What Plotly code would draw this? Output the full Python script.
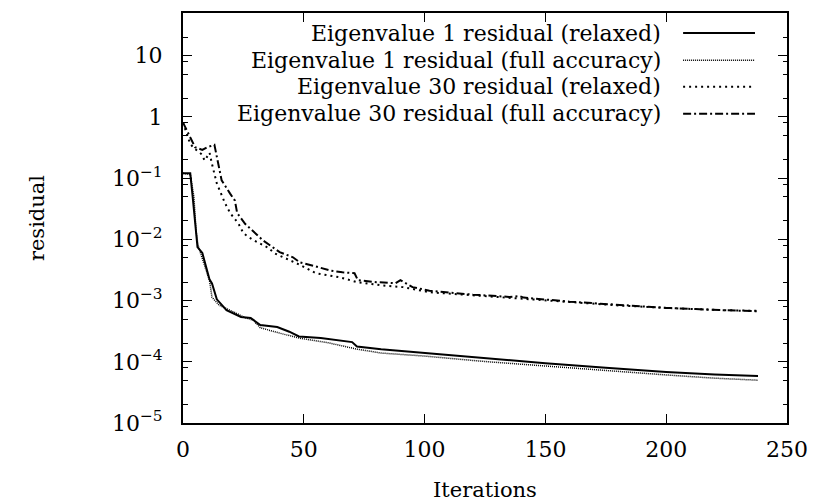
import plotly.graph_objects as go

# ---- data ----
names = [
    "Eigenvalue 1 residual (relaxed)",
    "Eigenvalue 1 residual (full accuracy)",
    "Eigenvalue 30 residual (relaxed)",
    "Eigenvalue 30 residual (full accuracy)",
]

eig1_relaxed_it = [0, 3, 4, 5, 6, 8, 10, 11, 12, 14, 18, 24, 28, 32, 39, 44, 48, 57, 70, 72, 82,
                   100, 125, 150, 175, 200, 220, 238]
eig1_relaxed_val = [0.12, 0.12, 0.05, 0.02, 0.0075, 0.006, 0.0031, 0.0022, 0.0019, 0.00105, 0.0007,
                    0.00054, 0.00052, 0.0004, 0.00037, 0.00031, 0.00026, 0.000244, 0.00021, 0.000178,
                    0.00016, 0.000139, 0.000113, 9.5e-5, 8.0e-5, 6.8e-5, 6.2e-5, 5.85e-5]

eig1_full_it = [0, 3, 4.5, 5.4, 6.2, 9, 11, 12, 15, 21, 26, 29, 32, 40, 48, 60, 72, 82,
                100, 125, 150, 175, 200, 220, 238]
eig1_full_val = [0.12, 0.115, 0.05, 0.014, 0.008, 0.0038, 0.0021, 0.00113, 0.00084, 0.00065,
                 0.00052, 0.00048, 0.00036, 0.000294, 0.000244, 0.000205, 0.000161, 0.000139,
                 0.000124, 0.000101, 8.5e-5, 7.1e-5, 6.1e-5, 5.4e-5, 5.0e-5]

eig30_relaxed_it = [0, 1, 3, 5, 7.5, 9, 11, 12, 14, 17.4, 19.5, 23, 25, 28.6, 35, 38, 44, 48, 55,
                    65, 72, 82, 91, 102, 120, 140, 160, 181, 200, 222, 238]
eig30_relaxed_val = [0.81, 0.6, 0.36, 0.3, 0.25, 0.195, 0.26, 0.17, 0.082, 0.039, 0.027, 0.018,
                     0.0126, 0.0100, 0.0074, 0.0059, 0.0046, 0.0039, 0.0028, 0.0024, 0.0020,
                     0.00178, 0.00166, 0.00137, 0.00122, 0.00108, 0.00094, 0.00083, 0.00076,
                     0.0007, 0.00068]

eig30_full_it = [0, 1.2, 5, 8, 10, 13, 16, 19.5, 21.5, 22.4, 25.7, 33, 40, 45.5, 48.4, 54, 61, 66,
                 71, 72.4, 80, 88, 90, 95, 102, 120, 135, 139.5, 141, 160, 181, 200, 222, 238]
eig30_full_val = [0.81, 0.65, 0.32, 0.29, 0.32, 0.35, 0.092, 0.056, 0.043, 0.027, 0.018, 0.0097,
                  0.0062, 0.0051, 0.0042, 0.0037, 0.0031, 0.0029, 0.0028, 0.00215, 0.0020,
                  0.00192, 0.00215, 0.00166, 0.00145, 0.00125, 0.00115, 0.00118, 0.00112,
                  0.00096, 0.00084, 0.00076, 0.0007, 0.00067]

x_ticks = [0, 50, 100, 150, 200, 250]
y_ticks = [1e-5, 1e-4, 1e-3, 1e-2, 1e-1, 1, 10]
y_tick_text = ["10<sup>\u22125</sup>", "10<sup>\u22124</sup>", "10<sup>\u22123</sup>",
               "10<sup>\u22122</sup>", "10<sup>\u22121</sup>", "1", "10"]
y_minor = [m * 10.0 ** e for e in range(-5, 2) for m in (2, 5, 8)]

# ---- styles ----
FONT = "DejaVu Serif"
FS = 22
TFS = 21
styles = [
    dict(color="black", width=2, dash="solid"),
    dict(color="black", width=1.5, dash="1px,1px"),
    dict(color="black", width=2, dash="2px,4px"),
    dict(color="black", width=2, dash="8px,3px,2px,3px"),
]

series = [
    (eig1_relaxed_it, eig1_relaxed_val),
    (eig1_full_it, eig1_full_val),
    (eig30_relaxed_it, eig30_relaxed_val),
    (eig30_full_it, eig30_full_val),
]

fig = go.Figure()
for (xs, ys), nm, st in zip(series, names, styles):
    fig.add_trace(go.Scatter(x=xs, y=ys, mode="lines", name=nm, line=st, showlegend=False))

# gnuplot-style legend: right-aligned text, line sample on its right
row_y = [0.951, 0.885, 0.820, 0.754]
for nm, st, ry in zip(names, styles, row_y):
    fig.add_annotation(x=0.795, y=ry, xref="paper", yref="paper", text=nm, showarrow=False,
                       xanchor="right", yanchor="middle", font=dict(family=FONT, size=FS, color="black"))
    fig.add_shape(type="line", xref="paper", yref="paper", x0=0.828, x1=0.947, y0=ry, y1=ry,
                  line=st)

fig.update_layout(
    width=814, height=502,
    margin=dict(l=183, r=27, t=13, b=79),
    paper_bgcolor="white", plot_bgcolor="white",
    font=dict(family=FONT, size=FS, color="black"),
    xaxis=dict(
        range=[0, 250], tickvals=x_ticks, ticktext=[str(v) for v in x_ticks],
        ticks="inside", ticklen=9, tickwidth=1.3, tickcolor="black",
        showline=True, linecolor="black", linewidth=2, mirror="allticks",
        showgrid=False, zeroline=False, automargin=False,
        title=dict(text="Iterations", standoff=21, font=dict(size=TFS)),
        ticklabelstandoff=6,
    ),
    yaxis=dict(
        type="log", range=[-5, 1.699],
        tickvals=y_ticks, ticktext=y_tick_text,
        ticks="inside", ticklen=9, tickwidth=1.3, tickcolor="black",
        minor=dict(tickvals=y_minor, ticks="inside", ticklen=4.5, tickwidth=1.3, tickcolor="black"),
        showline=True, linecolor="black", linewidth=2, mirror="allticks",
        showgrid=False, zeroline=False, automargin=False,
        title=dict(text="residual", standoff=62, font=dict(size=TFS)),
        ticklabelstandoff=14,
    ),
)

fig.write_html("out.html")
